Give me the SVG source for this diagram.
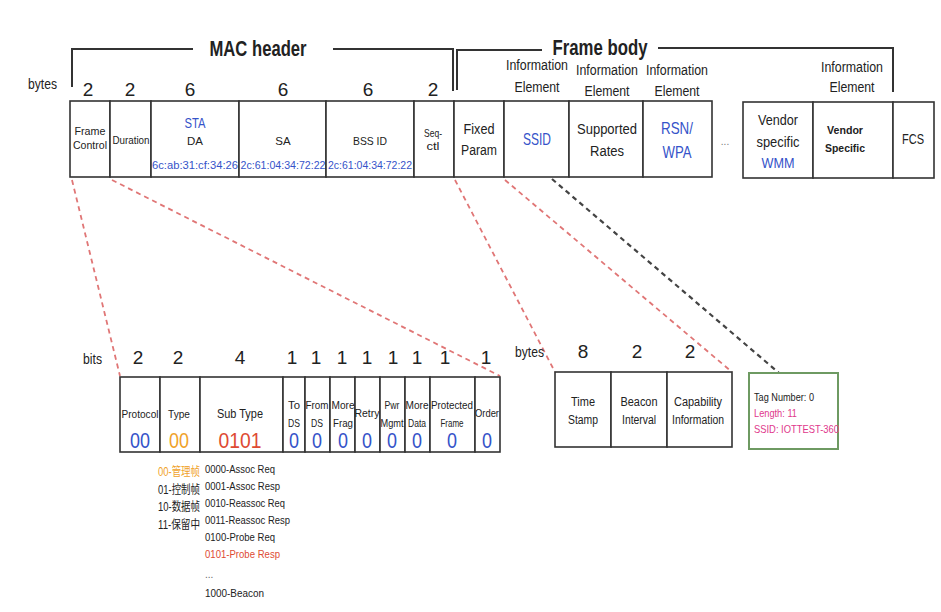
<svg xmlns="http://www.w3.org/2000/svg" width="941" height="612" viewBox="0 0 941 612">
<style>
text{font-family:"Liberation Sans",Arial,"Noto Sans CJK SC",sans-serif;fill:#222;text-anchor:middle}
.cell{fill:#fff;stroke:#333;stroke-width:1.6}
.br{fill:none;stroke:#333;stroke-width:2}
.big{font-size:19px}
.ttl{font-size:22px;font-weight:bold}
.s10{font-size:10px}
.s11{font-size:11.5px}
.s12{font-size:12px}
.s14{font-size:14px}
.s15{font-size:15.5px}
.s17{font-size:17px}
.val{font-size:22px}
.blue{fill:#3553c9}
.orange{fill:#f0a22a}
.red{fill:#de4a33}
.pink{fill:#e0388c}
.st{text-anchor:start}
.rd{fill:none;stroke:#e07676;stroke-width:1.8;stroke-dasharray:5 4}
.bk{fill:none;stroke:#444;stroke-width:2.2;stroke-dasharray:5 4}
</style>

<g id="brackets">
<polyline class="br" points="72,87 72,49 193,49"/>
<polyline class="br" points="333,49 453,49 453,91"/>
<polyline class="br" points="457,90 457,50 542,50"/>
<polyline class="br" points="658,48 893,48 893,92"/>
<text class="ttl" x="258" y="56" textLength="97" lengthAdjust="spacingAndGlyphs">MAC header</text>
<text class="ttl" x="600" y="55" textLength="95" lengthAdjust="spacingAndGlyphs">Frame body</text>
</g>

<g id="top-sizes">
<text class="s14 st" x="28" y="89" textLength="29" lengthAdjust="spacingAndGlyphs">bytes</text>
<text class="big" x="88" y="96">2</text>
<text class="big" x="130" y="96">2</text>
<text class="big" x="190" y="96">6</text>
<text class="big" x="283" y="96">6</text>
<text class="big" x="368" y="96">6</text>
<text class="big" x="433" y="96">2</text>
<text class="s14" x="537" y="70" textLength="62" lengthAdjust="spacingAndGlyphs">Information</text>
<text class="s14" x="537" y="92" textLength="45" lengthAdjust="spacingAndGlyphs">Element</text>
<text class="s14" x="607" y="75" textLength="62" lengthAdjust="spacingAndGlyphs">Information</text>
<text class="s14" x="607" y="96" textLength="45" lengthAdjust="spacingAndGlyphs">Element</text>
<text class="s14" x="677" y="75" textLength="62" lengthAdjust="spacingAndGlyphs">Information</text>
<text class="s14" x="677" y="96" textLength="45" lengthAdjust="spacingAndGlyphs">Element</text>
<text class="s14" x="852" y="72" textLength="62" lengthAdjust="spacingAndGlyphs">Information</text>
<text class="s14" x="852" y="92" textLength="45" lengthAdjust="spacingAndGlyphs">Element</text>
</g>

<g id="frame-control">
<rect class="cell" x="70" y="101" width="40" height="76"/>
<text class="s11" x="90" y="135" textLength="31" lengthAdjust="spacingAndGlyphs">Frame</text>
<text class="s11" x="90" y="149" textLength="34" lengthAdjust="spacingAndGlyphs">Control</text>
</g>
<g id="duration">
<rect class="cell" x="110" y="101" width="41" height="76"/>
<text class="s11" x="131" y="144" textLength="37" lengthAdjust="spacingAndGlyphs">Duration</text>
</g>
<g id="da">
<rect class="cell" x="151" y="101" width="88" height="76"/>
<text class="s14 blue" x="195" y="128" textLength="21" lengthAdjust="spacingAndGlyphs">STA</text>
<text class="s11" x="195" y="145">DA</text>
<text class="s11 blue" x="195" y="169" textLength="86" lengthAdjust="spacingAndGlyphs">6c:ab:31:cf:34:26</text>
</g>
<g id="sa">
<rect class="cell" x="239" y="101" width="87" height="76"/>
<text class="s11" x="283" y="145">SA</text>
<text class="s11 blue" x="283" y="169" textLength="85" lengthAdjust="spacingAndGlyphs">2c:61:04:34:72:22</text>
</g>
<g id="bssid">
<rect class="cell" x="326" y="101" width="88" height="76"/>
<text class="s11" x="370" y="145" textLength="34" lengthAdjust="spacingAndGlyphs">BSS ID</text>
<text class="s11 blue" x="370" y="169" textLength="84" lengthAdjust="spacingAndGlyphs">2c:61:04:34:72:22</text>
</g>
<g id="seqctl">
<rect class="cell" x="414" y="101" width="40" height="76"/>
<text class="s11" x="433" y="137" textLength="18" lengthAdjust="spacingAndGlyphs">Seq-</text>
<text class="s11" x="433" y="150" textLength="13" lengthAdjust="spacingAndGlyphs">ctl</text>
</g>
<g id="fixed-param">
<rect class="cell" x="454" y="101" width="50" height="76"/>
<text class="s15" x="479" y="134" textLength="31" lengthAdjust="spacingAndGlyphs">Fixed</text>
<text class="s15" x="479" y="155" textLength="36" lengthAdjust="spacingAndGlyphs">Param</text>
</g>
<g id="ssid">
<rect class="cell" x="504" y="101" width="65" height="76"/>
<text class="s17 blue" x="537" y="145" textLength="28" lengthAdjust="spacingAndGlyphs">SSID</text>
</g>
<g id="supported-rates">
<rect class="cell" x="569" y="101" width="74" height="76"/>
<text class="s15" x="607" y="134" textLength="60" lengthAdjust="spacingAndGlyphs">Supported</text>
<text class="s15" x="607" y="156" textLength="34" lengthAdjust="spacingAndGlyphs">Rates</text>
</g>
<g id="rsn-wpa">
<rect class="cell" x="643" y="101" width="69" height="76"/>
<text class="s17 blue" x="677" y="134" textLength="32" lengthAdjust="spacingAndGlyphs">RSN/</text>
<text class="s17 blue" x="677" y="158" textLength="29" lengthAdjust="spacingAndGlyphs">WPA</text>
</g>
<g id="ellipsis">
<text class="s10" x="725" y="145" style="fill:#777">...</text>
</g>
<g id="vendor-wmm">
<rect class="cell" x="743" y="102" width="70" height="76"/>
<text class="s15" x="778" y="125" textLength="40" lengthAdjust="spacingAndGlyphs">Vendor</text>
<text class="s15" x="778" y="147" textLength="43" lengthAdjust="spacingAndGlyphs">specific</text>
<text class="s15 blue" x="778" y="168" textLength="33" lengthAdjust="spacingAndGlyphs">WMM</text>
</g>
<g id="vendor-specific">
<rect class="cell" x="813" y="102" width="80" height="76"/>
<text class="s11" x="845" y="134" style="font-weight:bold" textLength="36" lengthAdjust="spacingAndGlyphs">Vendor</text>
<text class="s11" x="845" y="152" style="font-weight:bold" textLength="40" lengthAdjust="spacingAndGlyphs">Specific</text>
</g>
<g id="fcs">
<rect class="cell" x="893" y="102" width="41" height="76"/>
<text class="s14" x="913" y="144" textLength="22" lengthAdjust="spacingAndGlyphs">FCS</text>
</g>

<g id="connectors">
<line class="rd" x1="72" y1="180" x2="120" y2="376"/>
<line class="rd" x1="112" y1="180" x2="500" y2="376"/>
<line class="rd" x1="455" y1="180" x2="555" y2="372"/>
<line class="rd" x1="505" y1="180" x2="732" y2="372"/>
<line class="bk" x1="552" y1="179" x2="779" y2="373"/>
</g>

<g id="bit-sizes">
<text class="s14 st" x="83" y="364" textLength="19" lengthAdjust="spacingAndGlyphs">bits</text>
<text class="big" x="138" y="364">2</text>
<text class="big" x="178" y="364">2</text>
<text class="big" x="240" y="364">4</text>
<text class="big" x="292" y="364">1</text>
<text class="big" x="316" y="364">1</text>
<text class="big" x="342" y="364">1</text>
<text class="big" x="367" y="364">1</text>
<text class="big" x="393" y="364">1</text>
<text class="big" x="417" y="364">1</text>
<text class="big" x="445" y="364">1</text>
<text class="big" x="486" y="364">1</text>
</g>

<g id="protocol">
<rect class="cell" x="120" y="377" width="40" height="75"/>
<text class="s11" x="140" y="418" textLength="37" lengthAdjust="spacingAndGlyphs">Protocol</text>
<text class="val blue" x="140" y="448" textLength="20" lengthAdjust="spacingAndGlyphs">00</text>
</g>
<g id="type">
<rect class="cell" x="160" y="377" width="40" height="75"/>
<text class="s11" x="179" y="418" textLength="22" lengthAdjust="spacingAndGlyphs">Type</text>
<text class="val orange" x="179" y="448" textLength="20" lengthAdjust="spacingAndGlyphs">00</text>
</g>
<g id="subtype">
<rect class="cell" x="200" y="377" width="83" height="75"/>
<text class="s12" x="240" y="418" textLength="46" lengthAdjust="spacingAndGlyphs">Sub Type</text>
<text class="val red" x="240" y="448" textLength="43" lengthAdjust="spacingAndGlyphs">0101</text>
</g>
<g id="to-ds">
<rect class="cell" x="283" y="377" width="22" height="75"/>
<text class="s11" x="294" y="409" textLength="12" lengthAdjust="spacingAndGlyphs">To</text>
<text class="s11" x="294" y="427" textLength="12" lengthAdjust="spacingAndGlyphs">DS</text>
<text class="val blue" x="294" y="448" textLength="10" lengthAdjust="spacingAndGlyphs">0</text>
</g>
<g id="from-ds">
<rect class="cell" x="305" y="377" width="25" height="75"/>
<text class="s11" x="317" y="409" textLength="23" lengthAdjust="spacingAndGlyphs">From</text>
<text class="s11" x="317" y="427" textLength="12" lengthAdjust="spacingAndGlyphs">DS</text>
<text class="val blue" x="317" y="448" textLength="10" lengthAdjust="spacingAndGlyphs">0</text>
</g>
<g id="more-frag">
<rect class="cell" x="330" y="377" width="25" height="75"/>
<text class="s11" x="343" y="409" textLength="23" lengthAdjust="spacingAndGlyphs">More</text>
<text class="s11" x="343" y="427" textLength="20" lengthAdjust="spacingAndGlyphs">Frag</text>
<text class="val blue" x="343" y="448" textLength="10" lengthAdjust="spacingAndGlyphs">0</text>
</g>
<g id="retry">
<rect class="cell" x="355" y="377" width="25" height="75"/>
<text class="s11" x="367" y="417" textLength="25" lengthAdjust="spacingAndGlyphs">Retry</text>
<text class="val blue" x="367" y="448" textLength="10" lengthAdjust="spacingAndGlyphs">0</text>
</g>
<g id="pwr-mgmt">
<rect class="cell" x="380" y="377" width="25" height="75"/>
<text class="s11" x="392" y="409" textLength="15" lengthAdjust="spacingAndGlyphs">Pwr</text>
<text class="s11" x="392" y="427" textLength="23" lengthAdjust="spacingAndGlyphs">Mgmt</text>
<text class="val blue" x="392" y="448" textLength="10" lengthAdjust="spacingAndGlyphs">0</text>
</g>
<g id="more-data">
<rect class="cell" x="405" y="377" width="25" height="75"/>
<text class="s11" x="417" y="409" textLength="23" lengthAdjust="spacingAndGlyphs">More</text>
<text class="s11" x="417" y="427" textLength="18" lengthAdjust="spacingAndGlyphs">Data</text>
<text class="val blue" x="417" y="448" textLength="10" lengthAdjust="spacingAndGlyphs">0</text>
</g>
<g id="protected-frame">
<rect class="cell" x="430" y="377" width="45" height="75"/>
<text class="s11" x="452" y="409" textLength="42" lengthAdjust="spacingAndGlyphs">Protected</text>
<text class="s11" x="452" y="427" textLength="23" lengthAdjust="spacingAndGlyphs">Frame</text>
<text class="val blue" x="452" y="448" textLength="10" lengthAdjust="spacingAndGlyphs">0</text>
</g>
<g id="order">
<rect class="cell" x="475" y="377" width="25" height="75"/>
<text class="s11" x="487" y="417" textLength="24" lengthAdjust="spacingAndGlyphs">Order</text>
<text class="val blue" x="487" y="448" textLength="10" lengthAdjust="spacingAndGlyphs">0</text>
</g>

<g id="type-legend">
<text class="s12 st orange" x="158" y="476" textLength="42" lengthAdjust="spacingAndGlyphs">00-管理帧</text>
<text class="s12 st" x="158" y="494" textLength="42" lengthAdjust="spacingAndGlyphs">01-控制帧</text>
<text class="s12 st" x="158" y="511" textLength="42" lengthAdjust="spacingAndGlyphs">10-数据帧</text>
<text class="s12 st" x="158" y="529" textLength="42" lengthAdjust="spacingAndGlyphs">11-保留中</text>
</g>
<g id="subtype-legend">
<text class="s11 st" x="205" y="473" textLength="70" lengthAdjust="spacingAndGlyphs">0000-Assoc Req</text>
<text class="s11 st" x="205" y="490" textLength="75" lengthAdjust="spacingAndGlyphs">0001-Assoc Resp</text>
<text class="s11 st" x="205" y="507" textLength="80" lengthAdjust="spacingAndGlyphs">0010-Reassoc Req</text>
<text class="s11 st" x="205" y="524" textLength="85" lengthAdjust="spacingAndGlyphs">0011-Reassoc Resp</text>
<text class="s11 st" x="205" y="541" textLength="70" lengthAdjust="spacingAndGlyphs">0100-Probe Req</text>
<text class="s11 st red" x="205" y="558" textLength="75" lengthAdjust="spacingAndGlyphs">0101-Probe Resp</text>
<text class="s10 st" x="205" y="578" style="fill:#666">...</text>
<text class="s11 st" x="205" y="597" textLength="59" lengthAdjust="spacingAndGlyphs">1000-Beacon</text>
</g>

<g id="fixed-sizes">
<text class="s14 st" x="515" y="357" textLength="29" lengthAdjust="spacingAndGlyphs">bytes</text>
<text class="big" x="583" y="358">8</text>
<text class="big" x="637" y="358">2</text>
<text class="big" x="690" y="358">2</text>
</g>
<g id="time-stamp">
<rect class="cell" x="555" y="372" width="56" height="75"/>
<text class="s12" x="583" y="406" textLength="24" lengthAdjust="spacingAndGlyphs">Time</text>
<text class="s12" x="583" y="424" textLength="30" lengthAdjust="spacingAndGlyphs">Stamp</text>
</g>
<g id="beacon-interval">
<rect class="cell" x="611" y="372" width="56" height="75"/>
<text class="s12" x="639" y="406" textLength="37" lengthAdjust="spacingAndGlyphs">Beacon</text>
<text class="s12" x="639" y="424" textLength="34" lengthAdjust="spacingAndGlyphs">Interval</text>
</g>
<g id="capability">
<rect class="cell" x="667" y="372" width="65" height="75"/>
<text class="s12" x="698" y="406" textLength="48" lengthAdjust="spacingAndGlyphs">Capability</text>
<text class="s12" x="698" y="424" textLength="52" lengthAdjust="spacingAndGlyphs">Information</text>
</g>

<g id="ssid-element">
<rect x="749" y="373" width="89" height="76" fill="#fff" stroke="#6e9a62" stroke-width="2"/>
<text class="s11 st" x="754" y="401" textLength="60" lengthAdjust="spacingAndGlyphs">Tag Number: 0</text>
<text class="s11 st pink" x="754" y="417" textLength="43" lengthAdjust="spacingAndGlyphs">Length: 11</text>
<text class="s11 st pink" x="754" y="433" textLength="85" lengthAdjust="spacingAndGlyphs">SSID: IOTTEST-360</text>
</g>
</svg>
